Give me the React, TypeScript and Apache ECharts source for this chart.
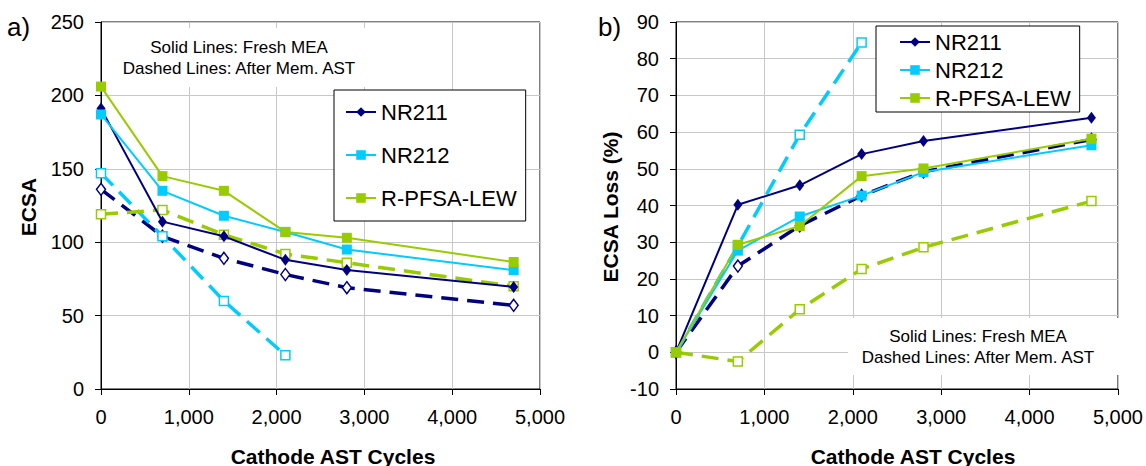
import React, { useEffect, useRef } from "react";
import * as echarts from "echarts";

// ---- Data ----
const cycles = [0, 700, 1400, 2100, 2800, 4700];

// Panel a) ECSA
const ecsaNR211Fresh = [191, 114, 104, 88, 81, 69.5];
const ecsaNR212Fresh = [187, 135, 118, 107, 95, 81];
const ecsaLEWFresh = [206, 145, 135, 107, 103, 86.5];
const ecsaNR211Mem = [136, 104, 89, 78, 69, 57];
const ecsaNR212Mem = [147, 104, 60, 23];
const ecsaLEWMem = [119, 122, 105, 92, 86, 70];

// Panel b) ECSA Loss (%)
const lossNR211Fresh = [0, 40.2, 45.5, 54, 57.6, 63.9];
const lossNR212Fresh = [0, 27.7, 37, 42.7, 49.1, 56.4];
const lossLEWFresh = [0, 29.3, 34.4, 48, 50.1, 58.2];
const lossNR211Mem = [0, 23.5, 34.5, 42.7, 49.2, 58];
const lossNR212Mem = [0, 29, 59.3, 84.4];
const lossLEWMem = [0, -2.5, 11.7, 22.7, 28.6, 41.2];

const legendNames = ["NR211", "NR212", "R-PFSA-LEW"];
const xTicksMax = 5000;

const NAVY = "#000080";
const CYAN = "#00CCFF";
const GREEN = "#99CC00";
const FONT = "Liberation Sans, Arial, sans-serif";

const pairs = (ys: number[]) => ys.map((y, i) => [cycles[i], y]);

function solid(name: string, color: string, symbol: string, ys: number[], idx: number) {
  return {
    type: "line",
    name,
    xAxisIndex: idx,
    yAxisIndex: idx,
    data: pairs(ys),
    symbol,
    symbolSize: symbol === "diamond" ? [9, 12] : 10,
    showSymbol: true,
    lineStyle: { color, width: 2 },
    itemStyle: { color, borderColor: color, borderWidth: 0 },
    z: 4,
  };
}

function dashed(name: string, color: string, symbol: string, ys: number[], idx: number) {
  return {
    type: "line",
    name,
    xAxisIndex: idx,
    yAxisIndex: idx,
    data: pairs(ys),
    symbol,
    symbolSize: symbol === "diamond" ? [9, 12] : 9,
    showSymbol: true,
    lineStyle: { color, width: 3.5, type: [17, 9] },
    itemStyle: { color: "#ffffff", borderColor: color, borderWidth: 1.5 },
    z: 3,
  };
}

function xAxis(gridIndex: number) {
  return {
    type: "value",
    gridIndex,
    min: 0,
    max: xTicksMax,
    interval: 1000,
    axisLine: { show: true, onZero: false, lineStyle: { color: "#000", width: 1 } },
    axisTick: { show: true, inside: false, length: 6, lineStyle: { color: "#000" } },
    axisLabel: {
      color: "#000",
      fontSize: 20,
      fontFamily: FONT,
      margin: 18,
      formatter: (v: number) => v.toLocaleString("en-US"),
    },
    splitLine: { show: true, lineStyle: { color: "#c8c8c8", width: 1 } },
  };
}

function yAxis(gridIndex: number, min: number, max: number, interval: number) {
  return {
    type: "value",
    gridIndex,
    min,
    max,
    interval,
    axisLine: { show: true, onZero: false, lineStyle: { color: "#000", width: 1 } },
    axisTick: { show: true, inside: false, length: 6, lineStyle: { color: "#000" } },
    axisLabel: { color: "#000", fontSize: 20, fontFamily: FONT, margin: 17 },
    splitLine: { show: true, lineStyle: { color: "#c8c8c8", width: 1 } },
  };
}

function txt(text: string, x: number, y: number, font: string, rotation = 0, align = "center") {
  return {
    type: "text",
    x,
    y,
    rotation,
    z: 6,
    style: {
      text,
      font,
      fill: "#000",
      textAlign: align,
      textVerticalAlign: "middle",
      align,
      verticalAlign: "middle",
    },
  };
}

export default function App() {
  const ref = useRef<HTMLDivElement>(null);

  useEffect(() => {
    if (!ref.current) return;
    const chart = echarts.init(ref.current, undefined, { renderer: "svg" });
    const legendCommon = {
      data: legendNames,
      orient: "vertical",
      backgroundColor: "#ffffff",
      borderColor: "#000",
      borderWidth: 1,
      itemWidth: 30,
      itemHeight: 12,
      textStyle: { color: "#000", fontSize: 22, fontFamily: FONT },
      selectedMode: false,
      z: 7,
    };
    chart.setOption({
      animation: false,
      backgroundColor: "#ffffff",
      grid: [
        { left: 101, top: 22, width: 439, height: 367, show: true, borderColor: "#000", borderWidth: 1, backgroundColor: "transparent" },
        { left: 676, top: 22, width: 445, height: 367, show: true, borderColor: "#000", borderWidth: 1, backgroundColor: "transparent" },
      ],
      xAxis: [xAxis(0), xAxis(1)],
      yAxis: [yAxis(0, 0, 250, 50), yAxis(1, -10, 90, 10)],
      legend: [
        { ...legendCommon, left: 334, top: 90, itemGap: 21, padding: [11, 9, 12, 11] },
        { ...legendCommon, left: 876, top: 26, itemGap: 6, padding: [5, 9, 3, 23] },
      ],
      series: [
        dashed("NR211 after Mem. AST", NAVY, "diamond", ecsaNR211Mem, 0),
        dashed("NR212 after Mem. AST", CYAN, "rect", ecsaNR212Mem, 0),
        dashed("R-PFSA-LEW after Mem. AST", GREEN, "rect", ecsaLEWMem, 0),
        solid("NR211", NAVY, "diamond", ecsaNR211Fresh, 0),
        solid("NR212", CYAN, "rect", ecsaNR212Fresh, 0),
        solid("R-PFSA-LEW", GREEN, "rect", ecsaLEWFresh, 0),
        dashed("NR211 after Mem. AST (loss)", NAVY, "diamond", lossNR211Mem, 1),
        dashed("NR212 after Mem. AST (loss)", CYAN, "rect", lossNR212Mem, 1),
        dashed("R-PFSA-LEW after Mem. AST (loss)", GREEN, "rect", lossLEWMem, 1),
        solid("NR211", NAVY, "diamond", lossNR211Fresh, 1),
        solid("NR212", CYAN, "rect", lossNR212Fresh, 1),
        solid("R-PFSA-LEW", GREEN, "rect", lossLEWFresh, 1),
      ],
      graphic: [
        { type: "rect", z: 1, shape: { x: 112, y: 28, width: 270, height: 59 }, style: { fill: "#ffffff" } },
        { type: "rect", z: 1, shape: { x: 848, y: 318, width: 272, height: 57 }, style: { fill: "#ffffff" } },
        txt("Solid Lines: Fresh MEA", 239, 47, `17px ${FONT}`),
        txt("Dashed Lines: After Mem. AST", 239, 68, `17px ${FONT}`),
        txt("Solid Lines: Fresh MEA", 978, 336, `17px ${FONT}`),
        txt("Dashed Lines: After Mem. AST", 978, 357, `17px ${FONT}`),
        txt("a)", 7, 27, `26px ${FONT}`, 0, "left"),
        txt("b)", 598, 27, `26px ${FONT}`, 0, "left"),
        txt("ECSA", 28, 207, `bold 21px ${FONT}`, Math.PI / 2),
        txt("ECSA Loss (%)", 610, 207, `bold 21px ${FONT}`, Math.PI / 2),
        txt("Cathode AST Cycles", 333, 456, `bold 21px ${FONT}`),
        txt("Cathode AST Cycles", 913, 456, `bold 21px ${FONT}`),
      ],
    });
    return () => chart.dispose();
  }, []);

  return (
    <div
      ref={ref}
      style={{ position: "fixed", left: 0, top: 0, width: 1146, height: 466, background: "#fff" }}
    />
  );
}
